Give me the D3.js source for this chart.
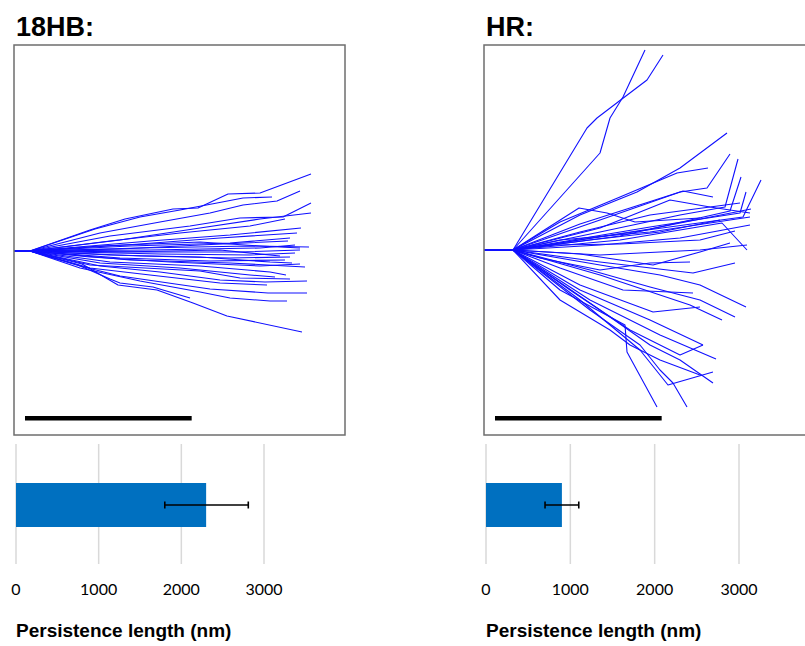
<!DOCTYPE html>
<html>
<head>
<meta charset="utf-8">
<script src="https://cdn.jsdelivr.net/npm/d3@7"></script>
<style>
  html, body { margin: 0; padding: 0; background: #fff; }
  svg { display: block; }
</style>
</head>
<body>
<svg id="chart" width="805" height="646"></svg>
<script>
// ---------------- DATA ----------------
const panels = ["18HB:", "HR:"];
const persistenceMean = [2300, 900];      // nm
const persistenceLow = [1800, 700];        // nm
const persistenceHigh = [2810, 1100];      // nm
const barTicks = [0, 1000, 2000, 3000];
const axisTitle = "Persistence length (nm)";
const scaleBarNm = 1000;

// Traced filament contours (nm), start aligned at origin, y up
const traj18HB = [
  [[0,0],[96,0],[456,126],[666,192],[954,252],[1104,258],[1284,342],[1476,348],[1782,462]],
  [[0,0],[96,0],[486,132],[756,204],[996,246],[1218,288],[1374,318],[1548,324]],
  [[0,0],[96,0],[516,108],[876,174],[1176,228],[1374,276],[1578,300],[1716,360]],
  [[0,0],[96,0],[576,90],[1056,150],[1356,198],[1614,204],[1782,288]],
  [[0,0],[96,0],[636,66],[1116,138],[1476,192],[1782,228]],
  [[0,0],[96,0],[576,60],[996,108],[1416,150],[1626,192]],
  [[0,0],[96,0],[816,60],[1296,96],[1722,138]],
  [[0,0],[96,0],[756,42],[1236,78],[1698,108]],
  [[0,0],[96,0],[696,30],[1296,48],[1656,78]],
  [[0,0],[96,0],[636,12],[1116,36],[1644,60]],
  [[0,0],[96,0],[756,18],[1416,30],[1770,24]],
  [[0,0],[96,0],[816,6],[1476,18],[1686,36]],
  [[0,0],[96,0],[816,-6],[1356,-6],[1716,6]],
  [[0,0],[96,0],[876,-18],[1416,-24],[1686,-12]],
  [[0,0],[96,0],[756,-30],[1296,-42],[1656,-36]],
  [[0,0],[96,0],[636,-42],[1176,-60],[1626,-54]],
  [[0,0],[96,0],[696,-54],[1296,-72],[1746,-96]],
  [[0,0],[96,0],[576,-66],[1116,-90],[1536,-126],[1632,-144]],
  [[0,0],[96,0],[516,-72],[996,-102],[1416,-144],[1566,-156]],
  [[0,0],[96,0],[456,-84],[1116,-120],[1356,-162],[1656,-168]],
  [[0,0],[96,0],[516,-90],[876,-126],[1236,-174],[1506,-186],[1758,-180]],
  [[0,0],[96,0],[456,-102],[816,-144],[1236,-192],[1518,-204]],
  [[0,0],[96,0],[396,-90],[636,-150],[1176,-228],[1524,-252],[1758,-252]],
  [[0,0],[96,0],[396,-102],[756,-180],[1116,-246],[1296,-282],[1536,-300],[1638,-300]],
  [[0,0],[96,0],[384,-84],[576,-168],[636,-192],[834,-216],[894,-234],[1056,-282]],
  [[0,0],[96,0],[408,-78],[624,-204],[858,-234],[1074,-312],[1278,-390],[1728,-486]],
  [[0,0],[96,0],[516,30],[1116,54],[1476,30],[1716,18]],
  [[0,0],[96,0],[636,-6],[1236,6],[1596,-30]],
  [[0,0],[96,0],[456,-36],[936,-66],[1476,-90],[1716,-78]],
  [[0,0],[96,0],[576,-24],[1116,-36],[1536,-66],[1668,-72]]
];

const trajHR = [
  [[0,0],[174,0],[618,732],[678,792],[804,888],[978,1020],[1074,1170]],
  [[0,0],[174,0],[696,582],[756,792],[834,918],[966,1200]],
  [[0,0],[174,0],[576,210],[918,348],[1176,492],[1458,702]],
  [[0,0],[174,0],[456,168],[816,318],[1158,462],[1344,492]],
  [[0,0],[174,0],[576,156],[1176,348],[1338,372],[1476,576]],
  [[0,0],[174,0],[696,180],[1194,354],[1374,318]],
  [[0,0],[174,0],[696,108],[1176,210],[1446,258],[1524,546]],
  [[0,0],[174,0],[816,84],[1476,234],[1542,438]],
  [[0,0],[174,0],[996,138],[1536,222],[1572,348]],
  [[0,0],[174,0],[936,114],[1554,198],[1662,420]],
  [[0,0],[174,0],[570,252],[738,222],[906,168],[1296,192]],
  [[0,0],[174,0],[696,132],[1116,300],[1356,258],[1596,222]],
  [[0,0],[174,0],[816,60],[1428,162],[1578,0]],
  [[0,0],[174,0],[996,126],[1602,246]],
  [[0,0],[174,0],[456,60],[996,108],[1596,198]],
  [[0,0],[174,0],[696,-90],[1056,-150],[1296,-210],[1572,-342]],
  [[0,0],[174,0],[636,-120],[996,-222],[1296,-300],[1506,-402]],
  [[0,0],[174,0],[696,-150],[1236,-330],[1428,-420]],
  [[0,0],[174,0],[696,-72],[1254,-138],[1506,-78]],
  [[0,0],[174,0],[696,-30],[1296,0],[1578,30]],
  [[0,0],[174,0],[576,-24],[1014,-90],[1296,-12],[1476,42]],
  [[0,0],[174,0],[456,-108],[834,-240],[1254,-258]],
  [[0,0],[174,0],[576,-210],[1014,-372],[1296,-342]],
  [[0,0],[174,0],[576,-240],[996,-420],[1314,-570]],
  [[0,0],[174,0],[636,-300],[1056,-510],[1392,-654]],
  [[0,0],[174,0],[696,-360],[996,-570],[1176,-660],[1374,-798]],
  [[0,0],[174,0],[576,-300],[936,-600],[1104,-810],[1374,-732]],
  [[0,0],[174,0],[456,-240],[846,-450],[858,-612],[1038,-942]],
  [[0,0],[174,0],[636,-360],[936,-570],[1056,-720],[1134,-798],[1218,-942]],
  [[0,0],[174,0],[456,-300],[756,-480],[876,-570],[1056,-660],[1296,-750]],
  [[0,0],[174,0],[516,-240],[876,-480],[1176,-630],[1314,-570]],
  [[0,0],[174,0],[576,108],[996,210],[1536,282]],
  [[0,0],[174,0],[636,60],[1056,108],[1416,180]],
  [[0,0],[174,0],[696,30],[1176,72],[1596,150]],
  [[0,0],[174,0],[336,-48],[696,-120],[996,-78],[1236,-72]],
  [[0,0],[174,0],[426,30],[816,36],[1296,60],[1506,114]]
];
const trajectories = [traj18HB, trajHR];

// ---------------- LAYOUT ----------------
const svg = d3.select("#chart");
const layout = [
  { left: 14, boxW: 331, originY: 251, barX0: 16, barX3000: 264, scaleBarX: 25 },
  { left: 484, boxW: 331, originY: 250, barX0: 486, barX3000: 739, scaleBarX: 495 }
];
const boxTop = 45, boxBottom = 435;
const nmPerPx = 6;

panels.forEach((title, i) => {
  const L = layout[i];
  const g = svg.append("g");

  // title
  g.append("text")
    .attr("x", L.left + 2).attr("y", 36)
    .attr("font-family", "Liberation Sans, Arial, sans-serif")
    .attr("font-weight", "bold").attr("font-size", 27)
    .attr("fill", "#000")
    .text(title);

  // trajectory scales (nm -> px)
  const x = d3.scaleLinear()
    .domain([0, L.boxW * nmPerPx])
    .range([L.left, L.left + L.boxW]);
  const y = d3.scaleLinear()
    .domain([(L.originY - boxBottom) * nmPerPx, (L.originY - boxTop) * nmPerPx])
    .range([boxBottom, boxTop]);

  const line = d3.line().x(d => x(d[0])).y(d => y(d[1]));

  g.append("g")
    .selectAll("path")
    .data(trajectories[i])
    .join("path")
    .attr("d", line)
    .attr("fill", "none")
    .attr("stroke", "#1010ff")
    .attr("stroke-width", 1.1)
    .attr("stroke-linejoin", "round");

  // box
  g.append("rect")
    .attr("x", L.left).attr("y", boxTop)
    .attr("width", L.boxW).attr("height", boxBottom - boxTop)
    .attr("fill", "none").attr("stroke", "#6e6e6e").attr("stroke-width", 1.5);

  // scale bar
  g.append("rect")
    .attr("x", L.scaleBarX)
    .attr("y", 416)
    .attr("width", x(scaleBarNm) - x(0))
    .attr("height", 4.5)
    .attr("fill", "#000");

  // bar chart
  const bx = d3.scaleLinear().domain([0, 3000]).range([L.barX0, L.barX3000]);
  const gridTop = 444, gridBottom = 564;
  const barTop = 483, barBottom = 527;
  const barMid = (barTop + barBottom) / 2;

  g.append("g").selectAll("line")
    .data(barTicks).join("line")
    .attr("x1", d => bx(d)).attr("x2", d => bx(d))
    .attr("y1", gridTop).attr("y2", gridBottom)
    .attr("stroke", "#d9d9d9").attr("stroke-width", 1.5);

  g.append("rect")
    .attr("x", bx(0)).attr("y", barTop)
    .attr("width", bx(persistenceMean[i]) - bx(0))
    .attr("height", barBottom - barTop)
    .attr("fill", "#0070c0");

  // error bar
  const eg = g.append("g").attr("stroke", "#000").attr("stroke-width", 1.6);
  eg.append("line")
    .attr("x1", bx(persistenceLow[i])).attr("x2", bx(persistenceHigh[i]))
    .attr("y1", barMid).attr("y2", barMid);
  [persistenceLow[i], persistenceHigh[i]].forEach(v => {
    eg.append("line")
      .attr("x1", bx(v)).attr("x2", bx(v))
      .attr("y1", barMid - 3.5).attr("y2", barMid + 3.5);
  });

  // tick labels
  g.append("g").selectAll("text")
    .data(barTicks).join("text")
    .attr("x", d => bx(d)).attr("y", 595)
    .attr("text-anchor", "middle")
    .attr("font-family", "Lato, Carlito, sans-serif")
    .attr("font-size", 16)
    .attr("fill", "#000")
    .text(d => d);

  // axis title
  g.append("text")
    .attr("x", bx(0)).attr("y", 637)
    .attr("font-family", "Liberation Sans, Arial, sans-serif")
    .attr("font-weight", "bold").attr("font-size", 19)
    .attr("fill", "#000")
    .text(axisTitle);
});
</script>
</body>
</html>
